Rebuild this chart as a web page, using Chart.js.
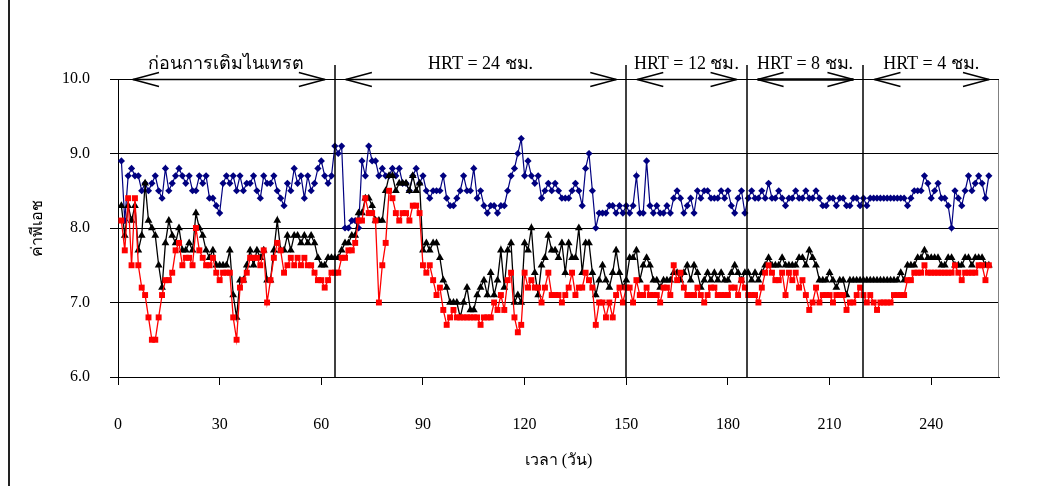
<!DOCTYPE html>
<html>
<head>
<meta charset="utf-8">
<script src="https://cdn.jsdelivr.net/npm/chart.js@4"></script>
<style>
  html, body { margin: 0; padding: 0; background: #fff; }
  canvas { display: block; }
</style>
</head>
<body>
<canvas id="ph-chart" width="1045" height="486"></canvas>
<script>
// daily pH readings, first reading on day 1
const firstDay = 1;

const phBlue = [
  8.9, 8.1, 8.7, 8.8, 8.7, 8.7, 8.5, 8.6, 8.5, 8.6, 8.7, 8.5, 8.4, 8.8, 8.5, 8.6, 8.7, 8.8, 8.7, 8.6, 8.7, 8.5, 8.5, 8.7, 8.6, 8.7, 8.4, 8.4, 8.3, 8.2, 8.6, 8.7, 8.6, 8.7, 8.5, 8.7,
  8.5, 8.6, 8.6, 8.7, 8.5, 8.4, 8.7, 8.6, 8.6, 8.7, 8.5, 8.4, 8.3, 8.6, 8.5, 8.8, 8.6, 8.7, 8.4, 8.7, 8.5, 8.6, 8.8, 8.9, 8.7, 8.6, 8.7, 9.1, 9.0, 9.1, 8.0, 8.0, 8.1, 8.1, 8.0, 8.9,
  8.7, 9.1, 8.9, 8.9, 8.7, 8.8, 8.7, 8.7, 8.8, 8.7, 8.8, 8.6, 8.6, 8.5, 8.7, 8.8, 8.6, 8.7, 8.5, 8.4, 8.5, 8.5, 8.5, 8.7, 8.4, 8.3, 8.3, 8.4, 8.5, 8.7, 8.5, 8.5, 8.8, 8.4, 8.5, 8.3, 8.2, 8.3,
  8.3, 8.2, 8.3, 8.3, 8.5, 8.7, 8.8, 9.0, 9.2, 8.7, 8.9, 8.7, 8.6, 8.7, 8.4, 8.5, 8.6, 8.5, 8.6, 8.5, 8.4, 8.4, 8.4, 8.5, 8.6, 8.5, 8.3, 8.8, 9.0, 8.5, 8.0, 8.2, 8.2, 8.2, 8.3, 8.3, 8.2, 8.3,
  8.2, 8.3, 8.2, 8.3, 8.7, 8.2, 8.2, 8.9, 8.3, 8.2, 8.3, 8.2, 8.2, 8.3, 8.2, 8.4, 8.5, 8.4, 8.2, 8.3, 8.4, 8.2, 8.5, 8.4, 8.5, 8.5, 8.4, 8.4, 8.4, 8.5, 8.4, 8.5, 8.3, 8.2, 8.4, 8.5, 8.2,
  8.4, 8.5, 8.4, 8.4, 8.5, 8.4, 8.6, 8.4, 8.4, 8.5, 8.4, 8.3, 8.4, 8.4, 8.5, 8.4, 8.4, 8.5, 8.4, 8.4, 8.5, 8.4, 8.3, 8.3, 8.4, 8.4, 8.3, 8.4, 8.4, 8.3, 8.3, 8.4, 8.4, 8.3, 8.4, 8.3, 8.4,
  8.4, 8.4, 8.4, 8.4, 8.4, 8.4, 8.4, 8.4, 8.4, 8.4, 8.3, 8.4, 8.5, 8.5, 8.5, 8.7, 8.6, 8.4, 8.5, 8.6, 8.4, 8.4, 8.3, 8.0, 8.5, 8.4, 8.3, 8.5, 8.7, 8.5, 8.6, 8.7, 8.6, 8.4, 8.7
];

const phBlack = [
  8.3, 7.9, 8.3, 8.1, 8.3, 7.7, 7.9, 8.6, 8.1, 8.0, 7.9, 7.5, 7.2, 7.8, 8.1, 7.9, 7.8, 8.0, 7.7, 7.7, 7.8, 7.7, 8.2, 8.0, 7.9, 7.7, 7.6, 7.7, 7.5, 7.5, 7.5, 7.5, 7.7, 7.1, 6.8, 7.3,
  7.3, 7.5, 7.7, 7.5, 7.7, 7.6, 7.7, 7.3, 7.3, 7.7, 8.1, 7.7, 7.7, 7.9, 7.7, 7.9, 7.9, 7.8, 7.9, 7.8, 7.9, 7.8, 7.6, 7.5, 7.5, 7.6, 7.6, 7.6, 7.6, 7.7, 7.8, 7.8, 7.9, 7.9, 8.2, 8.2,
  8.4, 8.4, 8.3, 8.1, 8.1, 8.1, 8.5, 8.7, 8.7, 8.5, 8.6, 8.6, 8.6, 8.5, 8.7, 8.5, 8.6, 7.7, 7.8, 7.7, 7.8, 7.8, 7.6, 7.3, 7.2, 7.0, 7.0, 7.0, 6.8, 7.0, 7.2, 6.9, 6.9, 7.1, 7.2, 7.3, 7.1, 7.4,
  7.1, 7.3, 7.7, 7.2, 7.7, 7.8, 7.0, 7.1, 7.0, 7.8, 7.7, 8.0, 7.4, 7.1, 7.5, 7.6, 7.9, 7.7, 7.7, 7.6, 7.8, 7.4, 7.8, 7.6, 7.6, 8.0, 7.4, 7.8, 7.8, 7.4, 7.1, 7.3, 7.5, 7.3, 7.2, 7.4, 7.7, 7.4,
  7.2, 7.3, 7.6, 7.6, 7.7, 7.3, 7.5, 7.6, 7.5, 7.3, 7.3, 7.2, 7.3, 7.3, 7.3, 7.4, 7.4, 7.3, 7.4, 7.5, 7.3, 7.5, 7.4, 7.2, 7.3, 7.4, 7.3, 7.4, 7.3, 7.4, 7.3, 7.3, 7.4, 7.5, 7.4, 7.3, 7.4,
  7.4, 7.3, 7.4, 7.3, 7.4, 7.5, 7.6, 7.5, 7.5, 7.5, 7.6, 7.5, 7.5, 7.5, 7.5, 7.6, 7.6, 7.5, 7.7, 7.6, 7.5, 7.3, 7.3, 7.3, 7.4, 7.3, 7.2, 7.3, 7.3, 7.1, 7.3, 7.3, 7.3, 7.3, 7.3, 7.3, 7.3,
  7.3, 7.3, 7.3, 7.3, 7.3, 7.3, 7.3, 7.3, 7.4, 7.3, 7.5, 7.5, 7.5, 7.6, 7.6, 7.7, 7.6, 7.6, 7.6, 7.6, 7.5, 7.5, 7.6, 7.6, 7.5, 7.5, 7.5, 7.6, 7.6, 7.5, 7.6, 7.6, 7.6, 7.5, 7.5
];

const phRed = [
  8.1, 7.7, 8.4, 7.5, 8.4, 7.5, 7.2, 7.1, 6.8, 6.5, 6.5, 6.8, 7.1, 7.3, 7.3, 7.4, 7.7, 7.8, 7.5, 7.6, 7.6, 7.5, 8.0, 7.7, 7.6, 7.5, 7.5, 7.6, 7.4, 7.3, 7.4, 7.4, 7.4, 6.8, 6.5, 7.2,
  7.3, 7.4, 7.6, 7.6, 7.6, 7.5, 7.7, 7.0, 7.3, 7.6, 7.8, 7.7, 7.4, 7.5, 7.6, 7.5, 7.6, 7.5, 7.6, 7.5, 7.5, 7.4, 7.3, 7.3, 7.2, 7.3, 7.4, 7.4, 7.4, 7.6, 7.6, 7.7, 7.7, 7.8, 8.1, 8.1,
  8.4, 8.2, 8.2, 8.1, 7.0, 7.5, 7.8, 8.5, 8.4, 8.2, 8.1, 8.2, 8.2, 8.1, 8.3, 8.3, 8.2, 7.5, 7.4, 7.5, 7.3, 7.1, 7.2, 6.9, 6.7, 6.8, 6.9, 6.8, 6.8, 6.8, 6.8, 6.8, 6.8, 6.8, 6.7, 6.8, 6.8, 6.8,
  7.0, 6.9, 7.1, 6.9, 7.3, 7.4, 6.8, 6.6, 6.7, 7.4, 7.2, 7.3, 7.2, 7.2, 7.0, 7.2, 7.4, 7.1, 7.1, 7.1, 7.0, 7.1, 7.2, 7.4, 7.1, 7.2, 7.2, 7.4, 7.3, 7.2, 6.7, 7.0, 7.0, 6.8, 7.0, 6.8, 7.1, 7.2,
  7.0, 7.2, 7.2, 7.0, 7.3, 7.1, 7.1, 7.2, 7.1, 7.1, 7.1, 7.0, 7.2, 7.2, 7.1, 7.5, 7.3, 7.4, 7.2, 7.1, 7.1, 7.1, 7.2, 7.1, 7.0, 7.1, 7.2, 7.2, 7.1, 7.1, 7.1, 7.1, 7.2, 7.2, 7.1, 7.3, 7.2,
  7.1, 7.1, 7.1, 7.0, 7.2, 7.4, 7.5, 7.4, 7.3, 7.3, 7.4, 7.1, 7.4, 7.3, 7.4, 7.2, 7.3, 7.1, 6.9, 7.0, 7.2, 7.0, 7.1, 7.1, 7.1, 7.0, 7.1, 7.1, 7.1, 6.9, 7.0, 7.0, 7.1, 7.2, 7.1, 7.0, 7.1,
  7.0, 6.9, 7.0, 7.0, 7.0, 7.0, 7.1, 7.1, 7.1, 7.1, 7.3, 7.3, 7.4, 7.4, 7.4, 7.5, 7.4, 7.4, 7.4, 7.4, 7.4, 7.4, 7.4, 7.4, 7.5, 7.4, 7.3, 7.4, 7.4, 7.4, 7.4, 7.5, 7.5, 7.3, 7.5
];

// day on which each operating phase ends, and the phase names
const phaseEnds = [64, 150, 185.5, 220];
const phaseLabels = ['ก่อนการเติมไนเทรต', 'HRT = 24 ชม.', 'HRT = 12 ชม.', 'HRT = 8 ชม.', 'HRT = 4 ชม.'];

const xTicks = [0, 30, 60, 90, 120, 150, 180, 210, 240];
const yTicks = [6, 7, 8, 9, 10];

const serif = "'Liberation Serif', 'Times New Roman', 'Noto Sans', 'DejaVu Sans', serif";

const toPoints = arr => arr.map((v, i) => ({ x: firstDay + i, y: v }));

// arrows, phase names and separators above the plot
const phasePlugin = {
  id: 'phaseMarks',
  beforeDraw(chart) {
    const { ctx } = chart;
    ctx.save();
    ctx.fillStyle = '#fff';
    ctx.fillRect(0, 0, chart.width, chart.height);
    ctx.strokeStyle = '#222';
    ctx.lineWidth = 2;
    ctx.beginPath();
    ctx.moveTo(9, 0);
    ctx.lineTo(9, chart.height);
    ctx.stroke();
    ctx.restore();
  },
  afterDatasetsDraw(chart) {
    const { ctx, chartArea: a, scales: { x } } = chart;
    const lineY = Math.round(a.top) + 0.5;
    const bounds = [x.min, ...phaseEnds, x.max];
    ctx.save();

    // right edge of the plot
    ctx.strokeStyle = '#808080';
    ctx.lineWidth = 1;
    ctx.beginPath();
    ctx.moveTo(Math.round(a.right) - 0.5, a.top);
    ctx.lineTo(Math.round(a.right) - 0.5, a.bottom);
    ctx.stroke();

    ctx.strokeStyle = '#000';
    ctx.lineWidth = 1.5;
    phaseEnds.forEach(d => {
      const px = Math.round(x.getPixelForValue(d));
      ctx.beginPath();
      ctx.moveTo(px, a.top - 14);
      ctx.lineTo(px, a.bottom);
      ctx.stroke();
    });

    ctx.lineWidth = 1;
    ctx.beginPath();
    ctx.moveTo(a.left - 8, lineY);
    ctx.lineTo(a.right, lineY);
    ctx.stroke();

    ctx.font = '18px ' + serif;
    ctx.fillStyle = '#000';
    ctx.textAlign = 'center';
    ctx.textBaseline = 'alphabetic';
    phaseLabels.forEach((label, i) => {
      const l = x.getPixelForValue(bounds[i]) + (i === 0 ? 15 : 11);
      const r = x.getPixelForValue(bounds[i + 1]) - 10;
      ctx.lineWidth = i === 3 ? 2.5 : 1.5;
      ctx.beginPath();
      ctx.moveTo(l, lineY);
      ctx.lineTo(r, lineY);
      ctx.stroke();
      ctx.lineWidth = 1.5;
      ctx.beginPath();
      ctx.moveTo(l + 26, lineY - 7);
      ctx.lineTo(l, lineY);
      ctx.lineTo(l + 26, lineY + 7);
      ctx.moveTo(r - 26, lineY - 7);
      ctx.lineTo(r, lineY);
      ctx.lineTo(r - 26, lineY + 7);
      ctx.stroke();
      ctx.fillText(label, (x.getPixelForValue(bounds[i]) + x.getPixelForValue(bounds[i + 1])) / 2, a.top - 10);
    });
    ctx.restore();
  }
};

new Chart(document.getElementById('ph-chart'), {
  type: 'scatter',
  data: {
    datasets: [
      {
        data: toPoints(phRed),
        order: 1,
        showLine: true,
        borderColor: '#ff0000',
        backgroundColor: '#ff0000',
        borderWidth: 1.3,
        pointStyle: 'rect',
        pointRadius: 4.2,
        pointBorderWidth: 0
      },
      {
        data: toPoints(phBlack),
        order: 2,
        showLine: true,
        borderColor: '#000000',
        backgroundColor: '#000000',
        borderWidth: 1.3,
        pointStyle: 'triangle',
        pointRadius: 4.5,
        pointBorderWidth: 0
      },
      {
        data: toPoints(phBlue),
        order: 3,
        showLine: true,
        borderColor: '#000080',
        backgroundColor: '#000080',
        borderWidth: 1.2,
        pointStyle: 'rectRot',
        pointRadius: 3.6,
        pointBorderWidth: 0
      }
    ]
  },
  options: {
    responsive: false,
    animation: false,
    layout: { padding: { top: 79, right: 46, left: 0, bottom: 0 } },
    plugins: {
      legend: { display: false },
      tooltip: { enabled: false }
    },
    scales: {
      x: {
        type: 'linear',
        min: 0,
        max: 260,
        afterBuildTicks: s => { s.ticks = xTicks.map(v => ({ value: v })); },
        afterFit: s => { s.height = 109; },
        grid: { drawOnChartArea: false, drawTicks: true, tickLength: 8, color: '#000' },
        border: { display: true, color: '#000', width: 1 },
        ticks: { color: '#000', padding: 30, maxRotation: 0, font: { family: serif, size: 16 } },
        title: {
          display: true,
          text: 'เวลา (วัน)',
          color: '#000',
          font: { family: serif, size: 16 },
          padding: { top: 0, bottom: 16 }
        }
      },
      y: {
        min: 6,
        max: 10,
        afterBuildTicks: s => { s.ticks = yTicks.map(v => ({ value: v })); },
        afterFit: s => { s.width = 118; },
        grid: { color: '#000', lineWidth: 1, drawTicks: true, tickLength: 8 },
        border: { display: true, color: '#000', width: 1 },
        ticks: {
          color: '#000',
          padding: 20,
          font: { family: serif, size: 16 },
          callback: v => v.toFixed(1)
        },
        title: {
          display: true,
          text: 'ค่าพีเอช',
          color: '#000',
          font: { family: serif, size: 16 },
          padding: { top: 28, bottom: 0 }
        }
      }
    }
  },
  plugins: [phasePlugin]
});
</script>
</body>
</html>
